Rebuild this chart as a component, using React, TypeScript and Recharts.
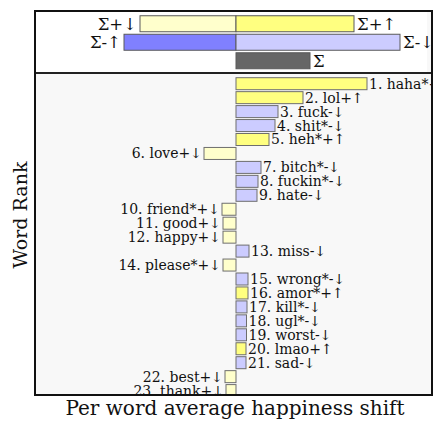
import React from 'react';
import { BarChart, Bar, XAxis, YAxis } from 'recharts';

// Main panel: word shift contributions
const words = ['haha*', 'lol', 'fuck', 'shit*', 'heh*', 'love', 'bitch*', 'fuckin*', 'hate', 'friend*', 'good', 'happy', 'miss', 'please*', 'wrong*', 'amor*', 'kill*', 'ugl*', 'worst', 'lmao', 'sad', 'best', 'thank'];
const kinds = ['+↑', '+↑', '-↓', '-↓', '+↑', '+↓', '-↓', '-↓', '-↓', '+↓', '+↓', '+↓', '-↓', '+↓', '-↓', '+↑', '-↓', '-↓', '-↓', '+↑', '-↓', '+↓', '+↓'];
const shifts = [13.1, 6.7, 4.2, 3.9, 3.3, -3.2, 2.5, 2.2, 2.1, -1.4, -1.3, -1.3, 1.3, -1.3, 1.2, 1.2, 1.1, 1.05, 1.05, 1.0, 1.0, -1.1, -1.0];

// Summary panel
const summaryNegLabels = ['Σ+↓', 'Σ-↑', ''];
const summaryPosLabels = ['Σ+↑', 'Σ-↓', 'Σ'];
const summaryNeg = [-9.6, -11.2, 0];
const summaryPos = [11.8, 16.4, 7.4];
const summaryNegKinds = ['+↓', '-↑', ''];
const summaryPosKinds = ['+↑', '-↓', 'total'];

const xDomain = [-20.0, 19.5];
const axisTitle = 'Per word average happiness shift';
const yTitle = 'Word Rank';

const kindColor: Record<string, string> = {
  '+↑': '#ffff80',
  '+↓': '#ffffcc',
  '-↓': '#ccccff',
  '-↑': '#8080ff',
  total: '#666666',
};

const FONT = '"DejaVu Serif", serif';

const mainData = words.map((w, i) => ({
  name: `${i + 1}. ${w}${kinds[i]}`,
  value: shifts[i],
  kind: kinds[i],
}));

const summaryData = summaryPos.map((p, i) => ({
  row: `r${i}`,
  neg: summaryNeg[i],
  pos: p,
  negLabel: summaryNegLabels[i],
  posLabel: summaryPosLabels[i],
  negKind: summaryNegKinds[i],
  posKind: summaryPosKinds[i],
}));

function MainShape(props: any) {
  const { x, y, width, height, payload } = props;
  const left = Math.min(x, x + width);
  const right = Math.max(x, x + width);
  const w = right - left;
  const neg = payload.value < 0;
  return (
    <g>
      <rect x={left} y={y} width={w} height={height} fill={kindColor[payload.kind]} stroke="#6e6e6e" strokeWidth={1} />
      <text
        x={neg ? left - 2 : right + 2}
        y={y + height / 2 + 5}
        textAnchor={neg ? 'end' : 'start'}
        fontFamily={FONT}
        fontSize={14}
        fill="#111"
      >
        {payload.name}
      </text>
    </g>
  );
}

function makeSummaryShape(which: 'neg' | 'pos') {
  return (props: any) => {
    const { x, y, width, height, payload } = props;
    const left = Math.min(x, x + width);
    const right = Math.max(x, x + width);
    const w = right - left;
    if (w <= 0) return <g />;
    const kind = which === 'neg' ? payload.negKind : payload.posKind;
    const label = which === 'neg' ? payload.negLabel : payload.posLabel;
    return (
      <g>
        <rect x={left} y={y} width={w} height={height} fill={kindColor[kind]} stroke="#5a5a5a" strokeWidth={1} />
        <text
          x={which === 'neg' ? left - 3 : right + 3}
          y={y + height / 2 + 6}
          textAnchor={which === 'neg' ? 'end' : 'start'}
          fontFamily={FONT}
          fontSize={16.5}
          fill="#111"
        >
          {label}
        </text>
      </g>
    );
  };
}

const NegShape = makeSummaryShape('neg');
const PosShape = makeSummaryShape('pos');

export default function App() {
  const W = 395;
  return (
    <div style={{ position: 'absolute', left: 0, top: 0, width: 434, height: 422, background: '#fff', overflow: 'hidden', fontFamily: FONT }}>
      {/* frame */}
      <div style={{ position: 'absolute', left: 34, top: 10, width: 399, height: 386, boxSizing: 'border-box', border: '2px solid #111', background: '#f8f8f8' }} />
      {/* summary panel background */}
      <div style={{ position: 'absolute', left: 36, top: 12, width: 391, height: 60, background: '#ffffff' }} />
      {/* summary chart */}
      <div style={{ position: 'absolute', left: 36, top: 12, width: W, height: 60 }}>
        <BarChart width={W} height={60} data={summaryData} layout="vertical" stackOffset="sign" margin={{ top: 2.75, right: 0, bottom: 1.75, left: 0 }}>
          <XAxis type="number" domain={xDomain} hide allowDataOverflow />
          <YAxis type="category" dataKey="row" hide />
          <Bar dataKey="neg" stackId="s" barSize={16} isAnimationActive={false} shape={NegShape} />
          <Bar dataKey="pos" stackId="s" barSize={16} isAnimationActive={false} shape={PosShape} />
        </BarChart>
      </div>
      {/* divider */}
      <div style={{ position: 'absolute', left: 36, top: 72, width: W, height: 2, background: '#222' }} />
      {/* main chart */}
      <div style={{ position: 'absolute', left: 36, top: 74, width: W, height: 320, overflow: 'hidden' }}>
        <BarChart width={W} height={323.55} data={mainData} layout="vertical" margin={{ top: 2.7, right: 0, bottom: 0, left: 0 }}>
          <XAxis type="number" domain={xDomain} hide allowDataOverflow />
          <YAxis type="category" dataKey="name" hide />
          <Bar dataKey="value" barSize={12} isAnimationActive={false} shape={MainShape} />
        </BarChart>
      </div>
      {/* titles */}
      <svg width={434} height={422} style={{ position: 'absolute', left: 0, top: 0, pointerEvents: 'none' }}>
        <text x={235} y={415} textAnchor="middle" fontFamily={FONT} fontSize={20} fill="#111">{axisTitle}</text>
        <text x={27} y={215} textAnchor="middle" fontFamily={FONT} fontSize={19} fill="#111" transform="rotate(-90, 27, 215)">{yTitle}</text>
      </svg>
    </div>
  );
}
